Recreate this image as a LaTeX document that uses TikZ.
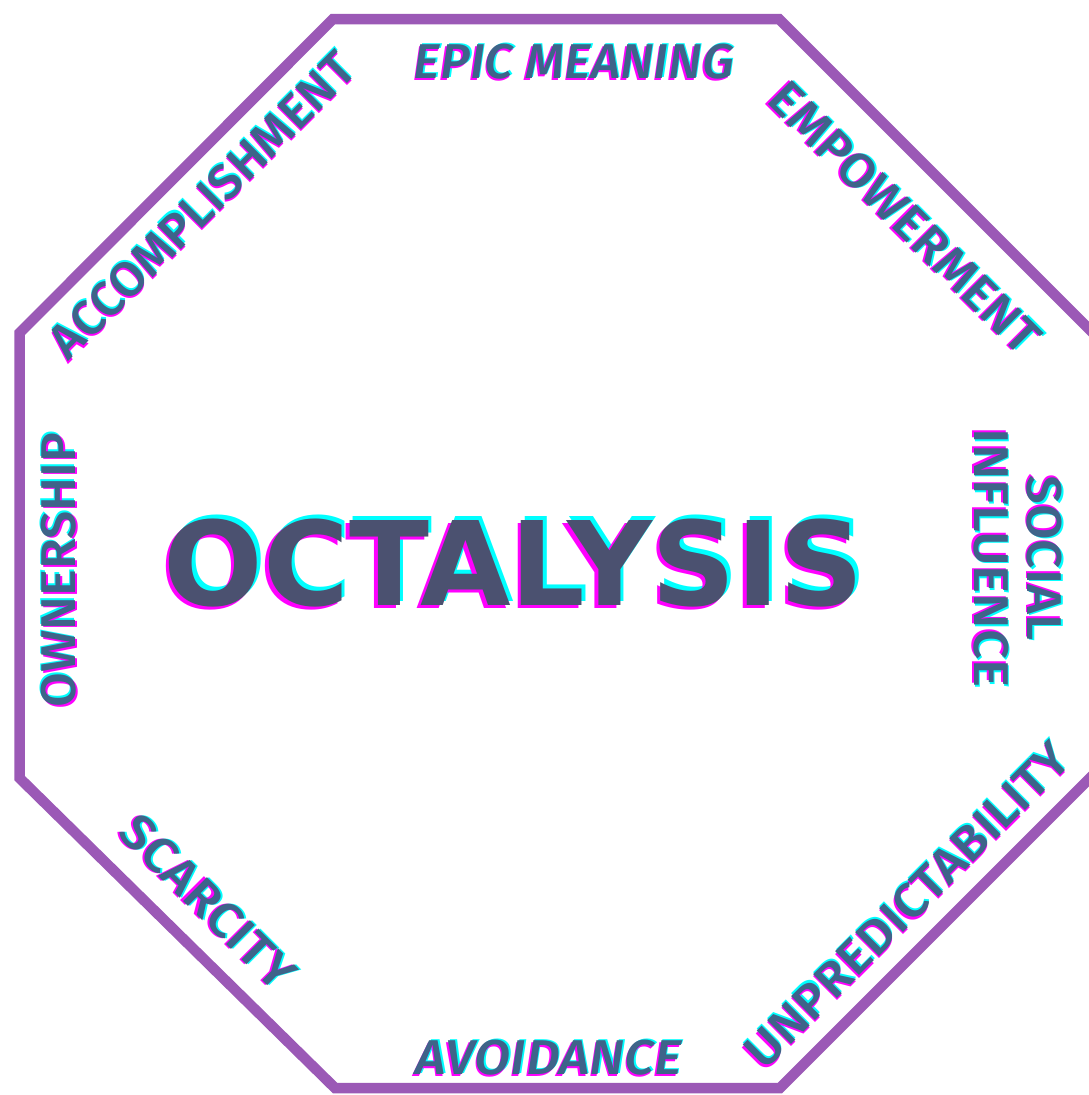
\documentclass[tikz,border=0pt]{standalone}
\usepackage{fontspec}
\usepackage{graphicx}
\setmainfont{Fira Sans}
\newfontfamily\titlefont{DejaVu Sans}
\IfFontExistsTF{Fira Sans Medium}
  {\newfontfamily\lblfont{Fira Sans Medium}[ItalicFont={Fira Sans Medium Italic}]}
  {\newcommand{\lblfont}{\bfseries}}

\definecolor{octpurple}{HTML}{9B59B6}
\definecolor{octslate}{HTML}{4B5170}
\definecolor{octblue}{HTML}{3E6489}
\definecolor{glitchcyan}{HTML}{00FFFF}
\definecolor{glitchpink}{HTML}{FF00FF}

%% text with a cyan / magenta offset copy behind it
\newcommand{\glitch}[1]{%
  \makebox[0pt][l]{\hspace{0.03em}\raisebox{0.03em}{\color{glitchcyan}#1}}%
  \makebox[0pt][l]{\hspace{-0.03em}\raisebox{-0.03em}{\color{glitchpink}#1}}%
  #1}
%% width / cap height in px
\newcommand{\fitlbl}[3]{\resizebox{#1pt}{#2pt}{\glitch{#3}}}

\begin{document}
\begin{tikzpicture}[x=1pt, y=-1pt,
    lbl/.style={text=octblue, font=\lblfont, inner sep=0pt},
    lblit/.style={lbl, font=\lblfont\itshape},
    ttl/.style={text=octslate, font=\titlefont\bfseries, inner sep=0pt}]
  \useasboundingbox (0,0) rectangle (1088,1095);

  %% ── Octagon frame ────────────────────────────────────────
  \draw[octpurple, line width=10.5pt]
    (333,19) -- (779,19) -- (1099,339) -- (1099,769)
    -- (780,1088) -- (335,1088) -- (19.5,778) -- (19.5,333) -- cycle;

  %% ── Title ────────────────────────────────────────────────
  \node[ttl] (title) at (514,563) {\fitlbl{700}{90}{OCTALYSIS}};

  %% ── Core drives, clockwise from top ──────────────────────
  \node[lblit] (epic) at (574,62) {\fitlbl{320}{36}{EPIC MEANING}};
  \node[lbl, rotate=-45] (empower) at (905,218) {\fitlbl{362}{36}{EMPOWERMENT}};
  \node[lbl, rotate=-90, align=center, font=\lblfont\fontsize{40}{53.5}\selectfont]
    (social) at (1018,558)
    {\fitlbl{165}{36}{SOCIAL}\\\fitlbl{259}{36}{INFLUENCE}};
  \node[lbl, rotate=45] (unpred) at (907,905) {\fitlbl{438}{36}{UNPREDICTABILITY}};
  \node[lblit] (avoid) at (549,1058) {\fitlbl{266}{36}{AVOIDANCE}};
  \node[lbl, rotate=-45] (scarcity) at (208,902) {\fitlbl{225}{36}{SCARCITY}};
  \node[lbl, rotate=90] (owner) at (59,570) {\fitlbl{275}{36}{OWNERSHIP}};
  \node[lbl, rotate=45] (accomp) at (202,205) {\fitlbl{410}{36}{ACCOMPLISHMENT}};
\end{tikzpicture}
\end{document}
